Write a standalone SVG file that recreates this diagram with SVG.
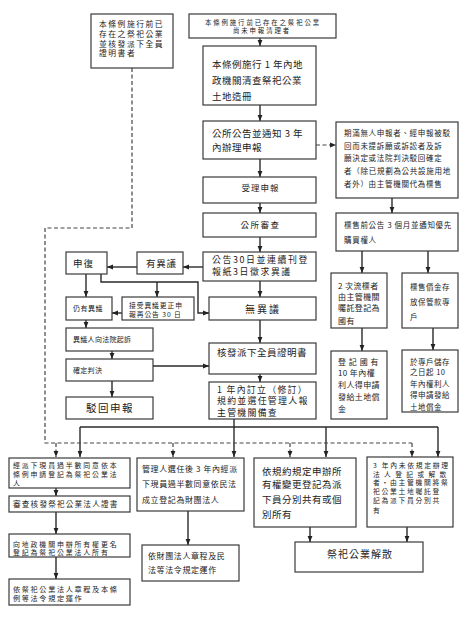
<svg xmlns="http://www.w3.org/2000/svg" width="474" height="629" viewBox="0 0 474 629">
<defs>
<style>
.b{fill:#fff;stroke:#3a3a3a;stroke-width:1.2}
.t{font-family:"Noto Sans CJK TC","Noto Sans CJK SC",sans-serif;fill:#222}
.c{fill:none;stroke:#2a2a2a;stroke-width:1.4}
.d{fill:none;stroke:#444;stroke-width:1.2;stroke-dasharray:4 2.5}
</style>
<marker id="a" viewBox="0 0 10 10" refX="10" refY="5" markerWidth="6" markerHeight="6" orient="auto" markerUnits="userSpaceOnUse"><path d="M0,1 L10,5 L0,9z" fill="#222"/></marker>
</defs>
<rect width="474" height="629" fill="#fff"/>

<g id="connectors">
<g class="c" marker-end="url(#a)">
<path d="M260,38V46"/>
<path d="M260,105V121"/>
<path d="M260,159V177"/>
<path d="M260,203V213"/>
<path d="M260,237V252"/>
<path d="M260,281V297"/>
<path d="M260,320V343"/>
<path d="M260,374V382"/>
<path d="M392,198V213"/>
<path d="M362,251V273"/>
<path d="M428,251V273"/>
<path d="M362,328V351"/>
<path d="M433,328V350"/>
<path d="M203,267H183"/>
<path d="M137,267H107"/>
<path d="M86,274V297"/>
<path d="M101,274V282H198V313H209"/>
<path d="M157,282V297"/>
<path d="M122,313H112"/>
<path d="M86,320V328"/>
<path d="M112,351V359"/>
<path d="M153,366H209"/>
<path d="M112,381V397"/>
<path d="M234,419V457"/>
<path d="M80,427V457"/>
<path d="M326,427V457"/>
<path d="M438,427V457"/>
<path d="M56,488V496"/>
<path d="M56,512V534"/>
<path d="M56,557V579"/>
<path d="M188,511V545"/>
<path d="M310,527V542"/>
<path d="M407,527V542"/>
</g>
<path class="c" d="M80,427H438"/>
<path class="d" d="M132,68V228H45V443H412"/>
<path class="d" d="M316,145H336" marker-end="url(#a)"/>
<g class="d" marker-end="url(#a)">
<path d="M56,443V457"/>
<path d="M173,443V457"/>
<path d="M290,443V457"/>
<path d="M412,443V457"/>
</g>
</g>

<g id="n_exist">
<rect class="b" x="91" y="14" width="82" height="54"/>
<text class="t" font-size="7.8" letter-spacing="1.5"><tspan x="99" y="27">本條例施行前已</tspan><tspan x="99" y="36.8">存在之祭祀公業</tspan><tspan x="99" y="46.6">並核發派下全員</tspan><tspan x="99" y="56.4">證明書者</tspan></text>
</g>

<g id="n_notyet">
<rect class="b" x="189" y="14" width="147" height="24"/>
<text class="t" font-size="6.4" letter-spacing="1.9" text-anchor="middle"><tspan x="263" y="25">本條例施行前已存在之祭祀公業</tspan><tspan x="262" y="33.2">尚未申報清理者</tspan></text>
</g>

<g id="n_survey">
<rect class="b" x="203" y="46" width="113" height="59"/>
<text class="t" font-size="9.5" letter-spacing="0.5"><tspan x="212" y="67.6">本條例施行 1 年內地</tspan><tspan x="212" y="83.6">政機關清查祭祀公業</tspan><tspan x="212" y="99.6">土地造冊</tspan></text>
</g>

<g id="n_notice">
<rect class="b" x="203" y="121" width="113" height="38"/>
<text class="t" font-size="9.5" letter-spacing="0.5"><tspan x="212" y="136.6">公所公告並通知 3 年</tspan><tspan x="212" y="150.6">內辦理申報</tspan></text>
</g>

<g id="n_expire">
<rect class="b" x="336" y="122" width="122" height="76"/>
<text class="t" font-size="7.5" letter-spacing="0.7"><tspan x="344" y="135.9">期滿無人申報者、經申報被駁</tspan><tspan x="344" y="148.9">回而未提訴願或訴訟者及訴</tspan><tspan x="344" y="161">願決定或法院判決駁回確定</tspan><tspan x="344" y="174" textLength="107" lengthAdjust="spacingAndGlyphs">者（除已規劃為公共設施用地</tspan><tspan x="344" y="187">者外）由主管機關代為標售</tspan></text>
</g>

<g id="n_presale">
<rect class="b" x="336" y="213" width="122" height="38"/>
<text class="t" font-size="7.5" letter-spacing="0.7"><tspan x="344" y="228">標售前公告 3 個月並通知優先</tspan><tspan x="344" y="243">購買權人</tspan></text>
</g>

<g id="n_accept">
<rect class="b" x="203" y="177" width="113" height="26"/>
<text class="t" font-size="8.5" letter-spacing="1" text-anchor="middle" x="260.5" y="191">受理申報</text>
</g>

<g id="n_review">
<rect class="b" x="203" y="213" width="113" height="24"/>
<text class="t" font-size="8.5" letter-spacing="1.5" text-anchor="middle" x="260.5" y="228.2">公所審查</text>
</g>

<g id="n_announce">
<rect class="b" x="203" y="252" width="113" height="29"/>
<text class="t" font-size="8.9" letter-spacing="1.6"><tspan x="212" y="263.2">公告30日並連續刊登</tspan><tspan x="212" y="274.9">報紙3日徵求異議</tspan></text>
</g>

<g id="n_noobj">
<rect class="b" x="209" y="297" width="107" height="23"/>
<text class="t" font-size="10" letter-spacing="2" text-anchor="middle" x="263" y="312.5">無異議</text>
</g>

<g id="n_issue">
<rect class="b" x="209" y="343" width="107" height="31"/>
<text class="t" font-size="9.5" letter-spacing="0.5" x="217" y="355.8">核發派下全員證明書</text>
</g>

<g id="n_rules">
<rect class="b" x="209" y="382" width="107" height="37"/>
<text class="t" font-size="8.9" letter-spacing="1.3"><tspan x="217" y="392.8">1 年內訂立（修訂）</tspan><tspan x="217" y="404.3">規約並選任管理人報</tspan><tspan x="217" y="415.8">主管機關備查</tspan></text>
</g>

<g id="n_appeal">
<rect class="b" x="66" y="252" width="41" height="22"/>
<text class="t" font-size="9.5" letter-spacing="1" x="73" y="266.5">申復</text>
</g>

<g id="n_obj">
<rect class="b" x="137" y="252" width="46" height="22"/>
<text class="t" font-size="9.5" letter-spacing="0.8" x="146" y="266.5">有異議</text>
</g>

<g id="n_stillobj">
<rect class="b" x="66" y="297" width="46" height="23"/>
<text class="t" font-size="7" letter-spacing="0.5" x="73" y="310.7">仍有異議</text>
</g>

<g id="n_correct">
<rect class="b" x="122" y="297" width="72" height="23"/>
<text class="t" font-size="6.8" letter-spacing="0.9"><tspan x="129" y="307.6">接受異議更正申</tspan><tspan x="129" y="316.6">報再公告 30 日</tspan></text>
</g>

<g id="n_sue">
<rect class="b" x="66" y="328" width="87" height="23"/>
<text class="t" font-size="7" letter-spacing="0.3" x="73" y="342">異議人向法院起訴</text>
</g>

<g id="n_judge">
<rect class="b" x="66" y="359" width="87" height="22"/>
<text class="t" font-size="7" letter-spacing="0.3" x="73" y="372.8">確定判決</text>
</g>

<g id="n_reject">
<rect class="b" x="66" y="397" width="87" height="22"/>
<text class="t" font-size="10.5" letter-spacing="1.5" text-anchor="middle" x="110" y="412">駁回申報</text>
</g>

<g id="n_state">
<rect class="b" x="331" y="273" width="56" height="55"/>
<text class="t" font-size="8" letter-spacing="0.4"><tspan x="338" y="289">2 次流標者</tspan><tspan x="338" y="300.2">由主管機關</tspan><tspan x="338" y="311.4">囑託登記為</tspan><tspan x="338" y="323.5">國有</tspan></text>
</g>

<g id="n_deposit">
<rect class="b" x="402" y="273" width="56" height="55"/>
<text class="t" font-size="7.5" letter-spacing="0.5"><tspan x="410" y="290">標售價金存</tspan><tspan x="410" y="305">放保管款專</tspan><tspan x="410" y="320">戶</tspan></text>
</g>

<g id="n_comp1">
<rect class="b" x="331" y="351" width="56" height="68"/>
<text class="t" font-size="8" letter-spacing="0.4"><tspan x="338" y="365" textLength="41" lengthAdjust="spacing">登記國有</tspan><tspan x="338" y="376">10 年內權</tspan><tspan x="338" y="388">利人得申請</tspan><tspan x="338" y="400">發給土地償</tspan><tspan x="338" y="412">金</tspan></text>
</g>

<g id="n_comp2">
<rect class="b" x="402" y="350" width="56" height="62"/>
<text class="t" font-size="7.5" letter-spacing="0.5"><tspan x="410" y="364.6">於專戶儲存</tspan><tspan x="410" y="375">之日起 10</tspan><tspan x="410" y="386.6">年內權利人</tspan><tspan x="410" y="398">得申請發給</tspan><tspan x="410" y="409.6">土地償金</tspan></text>
</g>

<g id="n_b1">
<rect class="b" x="9" y="458" width="121" height="30"/>
<text class="t" font-size="6.9" letter-spacing="1.9"><tspan x="13" y="468.3">經派下現員過半數同意依本</tspan><tspan x="13" y="477">條例申請登記為祭祀公業法</tspan><tspan x="13" y="485.7">人</tspan></text>
</g>

<g id="n_b2">
<rect class="b" x="9" y="496" width="121" height="16"/>
<text class="t" font-size="7.6" letter-spacing="1.2" x="13" y="506.6">審查核發祭祀公業法人證書</text>
</g>

<g id="n_b3">
<rect class="b" x="9" y="534" width="121" height="23"/>
<text class="t" font-size="6.9" letter-spacing="1.9"><tspan x="13" y="546.6">向地政機關申辦所有權更名</tspan><tspan x="13" y="555.3">登記為祭祀公業法人所有</tspan></text>
</g>

<g id="n_b4">
<rect class="b" x="9" y="579" width="121" height="26"/>
<text class="t" font-size="7.2" letter-spacing="1.6"><tspan x="13" y="591.8">依祭祀公業法人章程及本條</tspan><tspan x="13" y="601">例等法令規定運作</tspan></text>
</g>

<g id="n_b5">
<rect class="b" x="137" y="458" width="107" height="53"/>
<text class="t" font-size="8" letter-spacing="0.6"><tspan x="142" y="472">管理人選任後 3 年內經派</tspan><tspan x="142" y="487">下現員過半數同意依民法</tspan><tspan x="142" y="503">成立登記為財團法人</tspan></text>
</g>

<g id="n_b6">
<rect class="b" x="142" y="545" width="97" height="36"/>
<text class="t" font-size="8" letter-spacing="0.6"><tspan x="148" y="558.5">依財團法人章程及民</tspan><tspan x="148" y="573">法等法令規定運作</tspan></text>
</g>

<g id="n_b7">
<rect class="b" x="254" y="458" width="102" height="69"/>
<text class="t" font-size="9.5" letter-spacing="0.5"><tspan x="262" y="474.6">依規約規定申辦所</tspan><tspan x="262" y="488">有權變更登記為派</tspan><tspan x="262" y="503">下員分別共有或個</tspan><tspan x="262" y="517.6">別所有</tspan></text>
</g>

<g id="n_b8">
<rect class="b" x="367" y="457" width="86" height="70"/>
<text class="t" font-size="6.8" letter-spacing="1.7"><tspan x="373" y="468">3 年內未依規定辦理</tspan><tspan x="373" y="476.7" textLength="75" lengthAdjust="spacing">法人登記或解散</tspan><tspan x="373" y="485.4">者‧由主管機關將祭</tspan><tspan x="373" y="494.1">祀公業土地囑託登</tspan><tspan x="373" y="502.8">記為派下員分別共</tspan><tspan x="373" y="512.5">有</tspan></text>
</g>

<g id="n_b9">
<rect class="b" x="295" y="542" width="128" height="30"/>
<text class="t" font-size="10" letter-spacing="1" text-anchor="middle" x="360" y="557.5">祭祀公業解散</text>
</g>
</svg>
